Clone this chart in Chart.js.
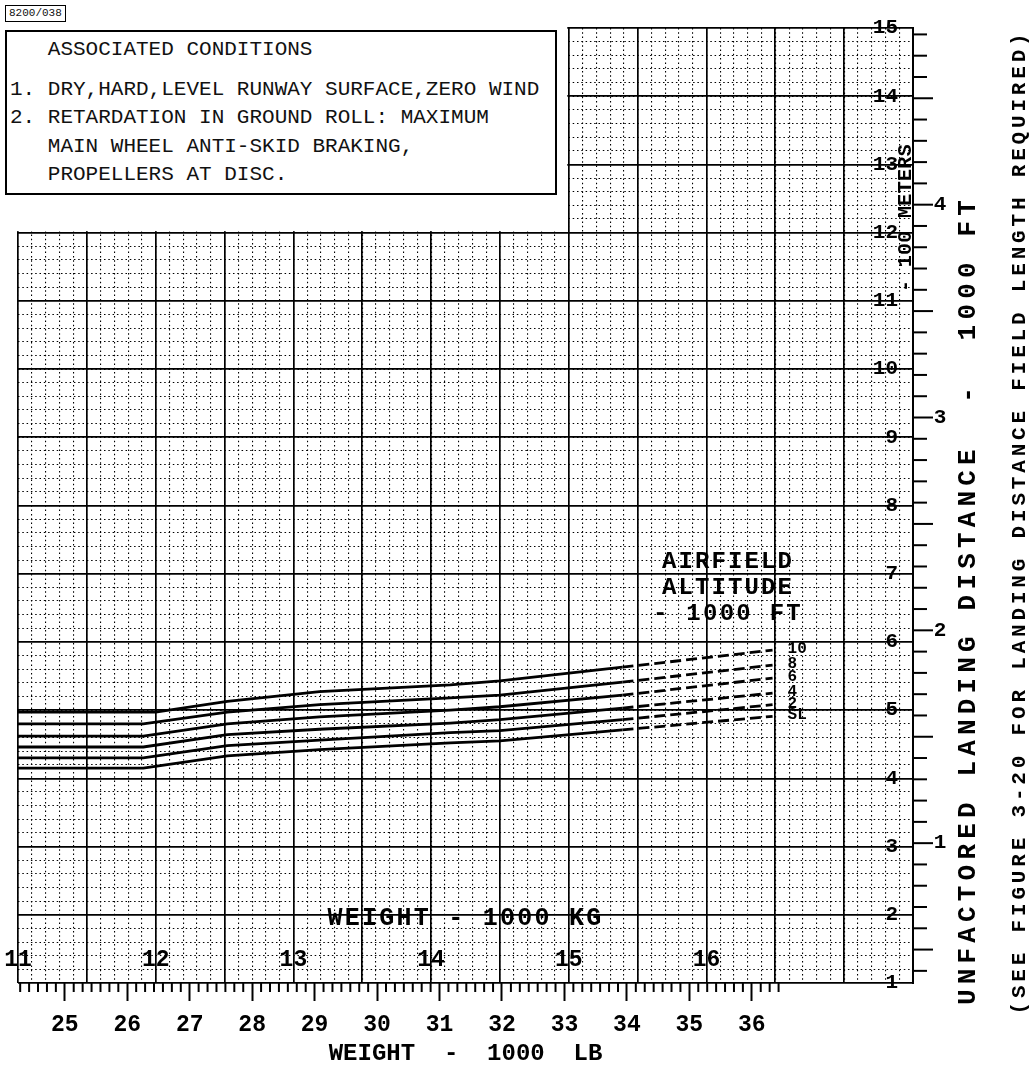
<!DOCTYPE html>
<html>
<head>
<meta charset="utf-8">
<title>Unfactored landing distance</title>
<script src="https://cdn.jsdelivr.net/npm/chart.js@4.4.1/dist/chart.umd.min.js"></script>
<style>
  html, body { margin: 0; padding: 0; background: #fff; }
  #wrap { position: relative; width: 1032px; height: 1071px; font-family: "Liberation Mono", monospace; color: #111; }
  #chart { position: absolute; left: 0; top: 0; }
  .tag { position: absolute; left: 5px; top: 5px; padding: 1px 3px; border: 1.5px solid #000; font-size: 11px; line-height: 13px; background: #fff; }
  .cond { position: absolute; left: 5px; top: 30px; width: 548px; height: 161px; border: 2px solid #000; background: #fff; font-size: 21px; }
  .cond div { position: absolute; left: 3px; white-space: pre; line-height: 24px; }
</style>
</head>
<body>
<div id="wrap">
  <canvas id="chart" width="1032" height="1071"></canvas>
  <div class="tag">8200/038</div>
  <div class="cond">
    <div style="top:6px">   ASSOCIATED CONDITIONS</div>
    <div style="top:46px">1. DRY,HARD,LEVEL RUNWAY SURFACE,ZERO WIND</div>
    <div style="top:74px">2. RETARDATION IN GROUND ROLL: MAXIMUM</div>
    <div style="top:103px">   MAIN WHEEL ANTI-SKID BRAKING,</div>
    <div style="top:131px">   PROPELLERS AT DISC.</div>
  </div>
</div>
<script>
// axes
const LB_PER_KG = 2.20462;
const METRE_1_AT_FT = 3.05;   // right hand metre scale as printed on the sheet
const FT_PER_METRE_UNIT = 3.12;
const kgRange = [11, 17.5];
const ftRange = [1, 15];
const kgLabels = [11, 12, 13, 14, 15, 16];
const lbLabels = [25, 26, 27, 28, 29, 30, 31, 32, 33, 34, 35, 36];
const ftLabels = [1, 2, 3, 4, 5, 6, 7, 8, 9, 10, 11, 12, 13, 14, 15];
const meterLabels = [1, 2, 3, 4];

// curves: landing distance (1000 ft) against weight (1000 kg)
const altitudes = ['10', '8', '6', '4', '2', 'SL'];
const weightKg10 = [11.0, 12.0, 12.52, 13.19, 14.14, 14.5, 15.39, 16.48];
const weightKg = [11.0, 11.91, 12.52, 13.19, 14.14, 14.5, 15.39, 16.48];
const dist10 = [4.97, 4.97, 5.13, 5.27, 5.37, 5.43, 5.63, 5.88];
const dist8 = [4.80, 4.80, 4.97, 5.08, 5.18, 5.22, 5.41, 5.66];
const dist6 = [4.62, 4.62, 4.80, 4.90, 5.00, 5.05, 5.22, 5.47];
const dist4 = [4.46, 4.46, 4.64, 4.72, 4.81, 4.86, 5.03, 5.25];
const dist2 = [4.30, 4.30, 4.48, 4.56, 4.67, 4.70, 4.86, 5.08];
const distSL = [4.15, 4.15, 4.33, 4.42, 4.52, 4.55, 4.71, 4.91];
const dashedFromKg = 15.39;

const FONT = 'Liberation Mono';
const curves = [
  [weightKg10, dist10], [weightKg, dist8], [weightKg, dist6],
  [weightKg, dist4], [weightKg, dist2], [weightKg, distSL]
];

const datasets = curves.map(([xs, ys], i) => ({
  label: altitudes[i],
  data: xs.map((w, j) => ({ x: w, y: ys[j] })),
  borderColor: '#000',
  borderWidth: 2.8,
  pointRadius: 0,
  tension: 0,
  fill: false,
  segment: {
    borderDash: c => c.p0.parsed.x >= dashedFromKg - 1e-6 ? [11, 5] : undefined
  }
}));

function say(ctx, str, x, y, font, o = {}) {
  ctx.save();
  ctx.font = font;
  ctx.fillStyle = '#000';
  ctx.textAlign = o.align || 'center';
  ctx.textBaseline = 'middle';
  if (o.width) {
    const w = ctx.measureText(str).width;
    ctx.letterSpacing = ((o.width - w) / str.length) + 'px';
  }
  ctx.translate(x, y);
  if (o.rot) ctx.rotate(o.rot);
  ctx.fillText(str, 0, 0);
  ctx.restore();
}

function tick(ctx, x1, y1, x2, y2) {
  ctx.beginPath();
  ctx.moveTo(x1, y1);
  ctx.lineTo(x2, y2);
  ctx.stroke();
}

const sheet = {
  id: 'sheet',
  beforeDatasetsDraw(chart) {
    // the conditions panel sits where the grid is left blank
    const { ctx, scales: { x, y } } = chart;
    ctx.save();
    ctx.fillStyle = '#fff';
    ctx.fillRect(0, 0, x.getPixelForValue(15) - 1.5, y.getPixelForValue(12) - 1.5);
    ctx.restore();
  },
  afterDraw(chart) {
    const { ctx, chartArea: a, scales: { x, y, ym, xlb } } = chart;
    const bold = s => 'bold ' + s + 'px "' + FONT + '"';
    ctx.save();
    ctx.strokeStyle = '#000';
    ctx.lineWidth = 2;

    // kg scale printed inside the grid
    kgLabels.forEach(v => say(ctx, String(v), x.getPixelForValue(v), a.bottom - 23, bold(23)));
    say(ctx, 'WEIGHT - 1000 KG', (a.left + a.right) / 2, a.bottom - 64, bold(25), { width: 276 });

    // ft scale printed inside the grid
    ftLabels.forEach(v => say(ctx, String(v), a.right - 15, y.getPixelForValue(v), bold(21), { align: 'right' }));

    // lb minor ticks
    for (let k = Math.ceil(xlb.min * 7); k <= lbLabels[lbLabels.length - 1] * 7 + 3; k++) {
      if (k % 7 === 0) continue;
      const px = xlb.getPixelForValue(k / 7);
      tick(ctx, px, a.bottom, px, a.bottom + 9);
    }

    // metre ticks on the right
    for (let k = Math.ceil(ym.min * 10); k <= Math.floor(ym.max * 10); k++) {
      const py = ym.getPixelForValue(k / 10);
      tick(ctx, a.right, py, a.right + (k % 5 === 0 ? 20 : 14), py);
    }
    meterLabels.forEach(v => say(ctx, String(v), a.right + 27, ym.getPixelForValue(v), bold(21)));
    say(ctx, '- 100 METERS', a.right - 7, 218, bold(20), { rot: -Math.PI / 2, width: 148 });

    // curve legend
    say(ctx, 'AIRFIELD', 728, 562, bold(24), { width: 132 });
    say(ctx, 'ALTITUDE', 728, 588, bold(24), { width: 132 });
    say(ctx, '- 1000 FT', 728, 614, bold(24), { width: 150 });
    chart.data.datasets.forEach((ds, i) => {
      const pts = chart.getDatasetMeta(i).data;
      const p = pts[pts.length - 1];
      say(ctx, ds.label, p.x + 15, p.y - 1, bold(16), { align: 'left' });
    });

    // right hand titles
    say(ctx, 'UNFACTORED LANDING DISTANCE  -  1000 FT', a.right + 55, 600, bold(26),
      { rot: -Math.PI / 2, width: 810 });
    say(ctx, '(SEE FIGURE 3-20 FOR LANDING DISTANCE FIELD LENGTH REQUIRED)', a.right + 107, 522, bold(21),
      { rot: -Math.PI / 2, width: 985 });
    ctx.restore();
  }
};

const hidden = { display: false };
const major = { color: '#000', lineWidth: 1.7, drawTicks: false };
const minor = { color: '#000', lineWidth: 1.1, drawTicks: false, z: -2 };
const dots = { display: false, dash: [1.5, 2.8] };

new Chart(document.getElementById('chart'), {
  type: 'line',
  data: { datasets },
  options: {
    responsive: false,
    animation: false,
    events: [],
    layout: { padding: { left: 18, top: 28, right: 0, bottom: 0 } },
    plugins: { legend: hidden, tooltip: { enabled: false } },
    scales: {
      x: {
        type: 'linear', position: 'bottom', min: kgRange[0], max: kgRange[1],
        ticks: { display: false, stepSize: 0.5 }, grid: major, border: hidden
      },
      xMinor: {
        type: 'linear', axis: 'x', position: 'bottom', min: kgRange[0], max: kgRange[1],
        ticks: { display: false, stepSize: 0.1 }, grid: minor, border: dots
      },
      xlb: {
        type: 'linear', axis: 'x', position: 'bottom',
        min: kgRange[0] * LB_PER_KG, max: kgRange[1] * LB_PER_KG,
        afterBuildTicks: s => { s.ticks = lbLabels.map(v => ({ value: v })); },
        afterFit: s => { s.height = 88; },
        ticks: { color: '#000', padding: 10, font: { family: FONT, size: 23, weight: 'bold' } },
        grid: { drawOnChartArea: false, tickLength: 18, tickWidth: 2, tickColor: '#000' },
        border: hidden,
        title: {
          display: true, text: 'WEIGHT  -  1000  LB', color: '#000',
          font: { family: FONT, size: 24, weight: 'bold' }, padding: { top: 4, bottom: 3 }
        }
      },
      y: {
        type: 'linear', position: 'left', min: ftRange[0], max: ftRange[1],
        ticks: { display: false, stepSize: 1 }, grid: major, border: hidden
      },
      yMinor: {
        type: 'linear', axis: 'y', position: 'left', min: ftRange[0], max: ftRange[1],
        ticks: { display: false, stepSize: 0.2 }, grid: minor, border: dots
      },
      ym: {
        type: 'linear', axis: 'y', position: 'right',
        min: 1 + (ftRange[0] - METRE_1_AT_FT) / FT_PER_METRE_UNIT,
        max: 1 + (ftRange[1] - METRE_1_AT_FT) / FT_PER_METRE_UNIT,
        afterFit: s => { s.width = 119; },
        ticks: { display: false },
        grid: { drawOnChartArea: false, drawTicks: false },
        border: { display: true, color: '#000', width: 2 }
      }
    }
  },
  plugins: [sheet]
});
</script>
</body>
</html>
